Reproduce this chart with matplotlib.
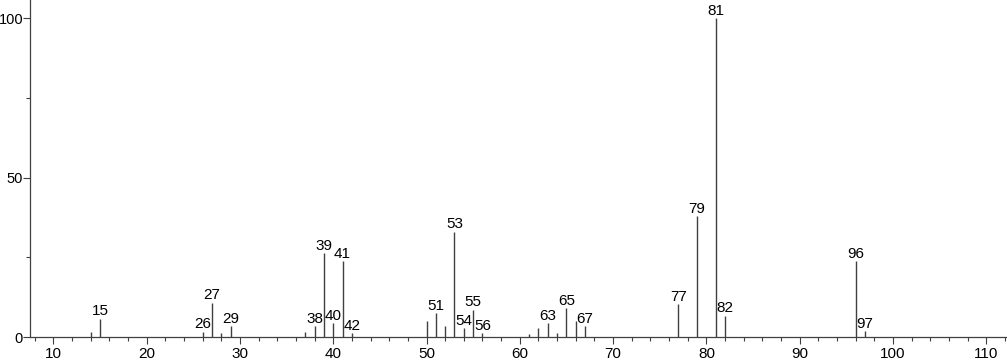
import matplotlib.pyplot as plt
from matplotlib.ticker import MultipleLocator

plt.rcParams['font.family'] = ['Liberation Sans', 'DejaVu Sans']

# m/z and relative intensity
mz = [14, 15, 26, 27, 28, 29, 37, 38, 39, 40, 41, 42, 50, 51, 52, 53, 54, 55, 56,
      61, 62, 63, 64, 65, 66, 67, 77, 79, 81, 82, 96, 97]
intensity = [1.6, 5.8, 1.7, 10.8, 1.3, 3.4, 1.6, 3.4, 26.3, 4.4, 23.7, 1.3, 4.9, 7.5, 3.6,
             33.0, 2.7, 8.6, 1.3, 0.8, 2.7, 4.4, 1.3, 9.1, 4.9, 3.4, 10.2, 38.0, 100.0,
             6.7, 23.7, 1.8]
labelled = [15, 26, 27, 29, 38, 39, 40, 41, 42, 51, 53, 54, 55, 56, 63, 65, 67,
            77, 79, 81, 82, 96, 97]

fig = plt.figure(figsize=(10.07, 3.62), dpi=100)
ax = fig.add_axes([0.0298, 0.069, 0.97, 0.931])

ax.vlines(mz, 0, intensity, color='#404040', linewidth=1.0)
for m, h in zip(mz, intensity):
    if m in labelled:
        ax.text(m, h + 0.1, str(m), ha='center', va='bottom', fontsize=11)

ax.set_xlim(7.5, 112.2)
ax.set_ylim(0, 105.7)
ax.xaxis.set_major_locator(MultipleLocator(10))
ax.xaxis.set_minor_locator(MultipleLocator(2))
ax.yaxis.set_major_locator(MultipleLocator(50))
ax.yaxis.set_minor_locator(MultipleLocator(25))
ax.spines['top'].set_visible(False)
ax.spines['right'].set_visible(False)
for s in ['left', 'bottom']:
    ax.spines[s].set_color('#404040')
    ax.spines[s].set_linewidth(0.9)
ax.tick_params(which='major', length=5, width=0.8, color='#404040')
ax.tick_params(axis='x', which='major', pad=2, labelsize=11)
ax.tick_params(axis='y', which='major', pad=0, labelsize=10.5)
ax.tick_params(which='minor', length=3, width=0.8, color='#404040')

fig.savefig('out.png', dpi=100)
